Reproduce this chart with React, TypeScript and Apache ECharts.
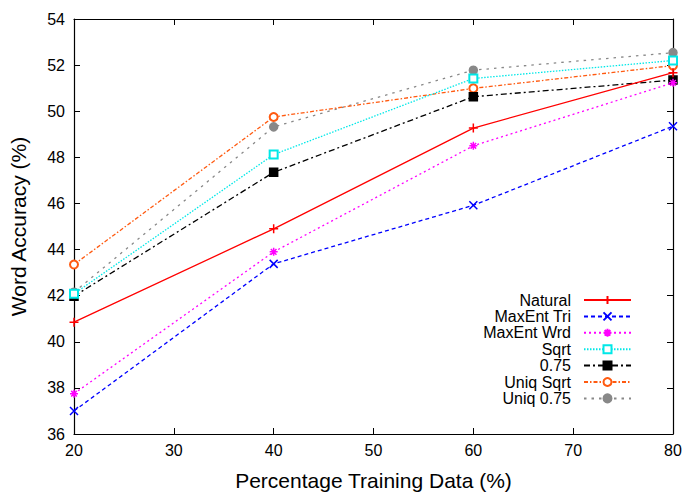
import React, { useEffect, useRef } from 'react';
import * as echarts from 'echarts';

const xValues = [20, 40, 60, 80];
const xTicks = [20, 30, 40, 50, 60, 70, 80];
const yTicks = [36, 38, 40, 42, 44, 46, 48, 50, 52, 54];
const seriesNames = ['Natural', 'MaxEnt Tri', 'MaxEnt Wrd', 'Sqrt', '0.75', 'Uniq Sqrt', 'Uniq 0.75'];
const natural = [40.85, 44.9, 49.27, 51.67];
const maxEntTri = [37.0, 43.38, 45.92, 49.35];
const maxEntWrd = [37.75, 43.9, 48.5, 51.23];
const sqrtVals = [42.08, 48.12, 51.42, 52.2];
const p075 = [41.98, 47.35, 50.63, 51.35];
const uniqSqrt = [43.35, 49.75, 50.99, 51.98];
const uniq075 = [42.15, 49.32, 51.78, 52.54];
const allValues = [natural, maxEntTri, maxEntWrd, sqrtVals, p075, uniqSqrt, uniq075];

const FONT = '"Liberation Sans", Arial, sans-serif';

const styles = [
  { color: '#ff0000', dash: 'solid' as any, symbol: 'path://M0,5L10,5M5,0L5,10', size: 9 },
  { color: '#0000ff', dash: [4, 3], symbol: 'path://M0,0L10,10M10,0L0,10', size: 8 },
  { color: '#ff00ff', dash: [2, 3], symbol: 'path://M0,5L10,5M5,0L5,10M1.5,1.5L8.5,8.5M8.5,1.5L1.5,8.5', size: 8 },
  { color: '#00e8e8', dash: [1.5, 1.5], symbol: 'emptyRect', size: 8 },
  { color: '#000000', dash: [6, 3, 2, 3], symbol: 'rect', size: 8 },
  { color: '#ff5a10', dash: [4, 2, 1.5, 2], symbol: 'emptyCircle', size: 8 },
  { color: '#888888', dash: [2.5, 5], symbol: 'circle', size: 8 },
];

export default function App() {
  const ref = useRef<HTMLDivElement>(null);
  useEffect(() => {
    if (!ref.current) return;
    const chart = echarts.init(ref.current, null, { renderer: 'svg' });
    const series = seriesNames.map((name, i) => {
      const s = styles[i];
      const empty = s.symbol.startsWith('empty');
      return {
        name,
        type: 'line',
        data: xValues.map((x, j) => [x, allValues[i][j]]),
        symbol: s.symbol,
        symbolSize: s.size,
        showAllSymbol: true,
        lineStyle: { color: s.color, width: 1.3, type: s.dash },
        itemStyle: {
          color: s.color,
          borderColor: s.color,
          borderWidth: empty ? 1.8 : 1.5,
        },
        z: 10 - i,
      };
    });
    chart.setOption({
      animation: false,
      backgroundColor: '#ffffff',
      textStyle: { fontFamily: FONT },
      grid: { left: 70, right: 12, top: 19, bottom: 58 },
      legend: {
        orient: 'vertical',
        align: 'right',
        right: 48,
        top: 287,
        itemWidth: 47,
        itemHeight: 10,
        itemGap: 0.4,
        data: seriesNames,
        textStyle: { fontSize: 16, color: '#000', fontFamily: FONT, lineHeight: 16, padding: [0, 8, 0, 0] },
      },
      xAxis: [
        {
          type: 'value', min: 20, max: 80, interval: 10, position: 'bottom',
          name: 'Percentage Training Data (%)', nameLocation: 'middle', nameGap: 36,
          nameTextStyle: { fontSize: 21, color: '#000', fontFamily: FONT },
          axisLine: { onZero: false, lineStyle: { color: '#000', width: 1.2 } },
          axisTick: { inside: true, length: 6, lineStyle: { color: '#000' } },
          axisLabel: { fontSize: 16, color: '#000', margin: 8, fontFamily: FONT, customValues: xTicks },
          splitLine: { show: false },
        },
        {
          type: 'value', min: 20, max: 80, interval: 10, position: 'top',
          axisLine: { onZero: false, lineStyle: { color: '#000', width: 1.2 } },
          axisTick: { inside: true, length: 6, lineStyle: { color: '#000' } },
          axisLabel: { show: false },
          splitLine: { show: false },
        },
      ],
      yAxis: [
        {
          type: 'value', min: 36, max: 54, interval: 2, position: 'left',
          name: 'Word Accuracy (%)', nameLocation: 'middle', nameGap: 45,
          nameTextStyle: { fontSize: 21, color: '#000', fontFamily: FONT },
          axisLine: { show: true, onZero: false, lineStyle: { color: '#000', width: 1.2 } },
          axisTick: { show: true, inside: true, length: 6, lineStyle: { color: '#000' } },
          axisLabel: { fontSize: 16, color: '#000', margin: 9, fontFamily: FONT, customValues: yTicks },
          splitLine: { show: false },
        },
        {
          type: 'value', min: 36, max: 54, interval: 2, position: 'right',
          axisLine: { show: true, onZero: false, lineStyle: { color: '#000', width: 1.2 } },
          axisTick: { show: true, inside: true, length: 6, lineStyle: { color: '#000' } },
          axisLabel: { show: false },
          splitLine: { show: false },
        },
      ],
      series,
    });
    return () => chart.dispose();
  }, []);
  return <div ref={ref} style={{ width: 685, height: 496, position: 'absolute', left: 0, top: 0 }} />;
}
